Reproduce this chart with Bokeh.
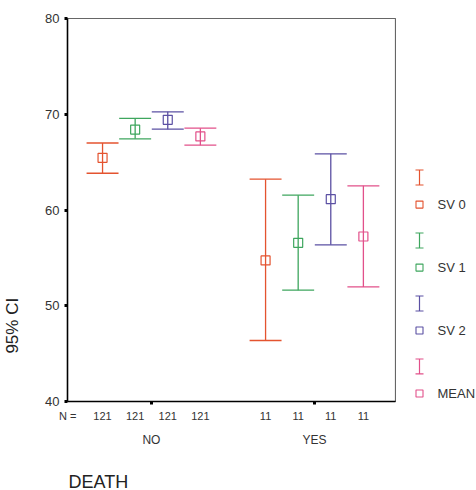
import numpy as np
from bokeh.plotting import figure
from bokeh.models import Range1d, FixedTicker, LinearAxis
from bokeh.layouts import row, column
from bokeh.core.properties import value
from bokeh.embed import file_html
from bokeh.resources import INLINE

# ---------------- data ----------------
groups = ["NO", "YES"]
n_counts = [121, 11]
series = ["SV 0", "SV 1", "SV 2", "MEAN"]
colors = ["#E4532F", "#3EA65E", "#5B50A3", "#E2508A"]

sv0_mean = [65.45, 54.73]
sv0_low = [63.84, 46.37]
sv0_high = [67.00, 63.22]

sv1_mean = [68.40, 56.57]
sv1_low = [67.43, 51.63]
sv1_high = [69.56, 61.55]

sv2_mean = [69.42, 61.13]
sv2_low = [68.44, 56.36]
sv2_high = [70.25, 65.87]

mean_mean = [67.68, 57.23]
mean_low = [66.77, 51.97]
mean_high = [68.55, 62.52]

y_ticks = [40, 50, 60, 70, 80]
n_label = "N ="
y_title = "95% CI"
x_title = "DEATH"

means = [sv0_mean, sv1_mean, sv2_mean, mean_mean]
lows = [sv0_low, sv1_low, sv2_low, mean_low]
highs = [sv0_high, sv1_high, sv2_high, mean_high]

# ---------------- layout params ----------------
group_x = [1, 2]
offsets = [-0.3, -0.1, 0.1, 0.3]
cap = 0.098
x_start, x_end = 0.485, 2.497
FONT = value("Liberation Sans")
TOP_H = 460
LEFT_W = 25


def blank(width, height, xr, yr, top=0, bottom=0):
    f = figure(width=width, height=height, x_range=xr, y_range=yr,
               output_backend="svg", toolbar_location=None,
               x_axis_location=None, y_axis_location=None,
               min_border_left=0, min_border_right=0,
               min_border_top=top, min_border_bottom=bottom)
    f.grid.visible = False
    f.outline_line_color = None
    return f


p = figure(width=396 - LEFT_W, height=TOP_H, x_range=Range1d(x_start, x_end),
           y_range=Range1d(40, 80), output_backend="svg", toolbar_location=None,
           min_border_left=67 - LEFT_W, min_border_right=1, min_border_top=18,
           min_border_bottom=TOP_H - 401)
p.grid.visible = False
p.outline_line_color = "#666666"
p.outline_line_width = 1.2

# y axis
ya = p.yaxis[0]
ya.ticker = FixedTicker(ticks=y_ticks)
ya.major_tick_in = 0
ya.major_tick_out = 3
ya.major_tick_line_width = 3
ya.major_tick_line_color = "black"
ya.minor_tick_line_color = None
ya.axis_line_color = "black"
ya.axis_line_width = 1.5
ya.major_label_standoff = 5
ya.major_label_text_font = "Liberation Sans"
ya.major_label_text_font_size = "13px"
ya.major_label_text_color = "#333333"

# x axis A: N counts under each bar; category tick marks as minor ticks
bar_x = []
bar_lab = {}
for k in range(len(series)):
    for g, gx in enumerate(group_x):
        xv = gx + offsets[k]
        bar_x.append(xv)
        bar_lab[xv] = str(n_counts[g])
n_pos = x_start + 0.001
bar_lab[n_pos] = n_label
xa = p.xaxis[0]
xa.ticker = FixedTicker(ticks=[n_pos] + sorted(bar_x), minor_ticks=group_x)
xa.major_label_overrides = bar_lab
xa.major_tick_line_color = None
xa.major_tick_in = 0
xa.major_tick_out = 0
xa.minor_tick_in = 0
xa.minor_tick_out = 3
xa.minor_tick_line_width = 3
xa.minor_tick_line_color = "black"
xa.axis_line_color = "black"
xa.axis_line_width = 1.5
xa.major_label_standoff = 5
xa.major_label_text_font = "Liberation Sans"
xa.major_label_text_font_size = "11px"
xa.major_label_text_color = "#333333"

# x axis B: group names
xb = LinearAxis(ticker=FixedTicker(ticks=group_x),
                major_label_overrides={gx: name for gx, name in zip(group_x, groups)})
xb.axis_line_color = None
xb.major_tick_line_color = None
xb.minor_tick_line_color = None
xb.major_tick_in = 0
xb.major_tick_out = 0
xb.major_label_standoff = 8
xb.major_label_text_font = "Liberation Sans"
xb.major_label_text_font_size = "12px"
xb.major_label_text_color = "#333333"
p.add_layout(xb, "below")

# error bars with caps and mean squares
for k in range(len(series)):
    xs = np.array(group_x, dtype=float) + offsets[k]
    p.segment(x0=xs, y0=lows[k], x1=xs, y1=highs[k], line_color=colors[k], line_width=1.3)
    p.segment(x0=xs - cap, y0=highs[k], x1=xs + cap, y1=highs[k], line_color=colors[k], line_width=1.3)
    p.segment(x0=xs - cap, y0=lows[k], x1=xs + cap, y1=lows[k], line_color=colors[k], line_width=1.3)
    p.scatter(x=xs, y=means[k], marker="square", size=9, fill_color=None,
              line_color=colors[k], line_width=1.2)

# ---------------- y title panel (pixel coordinates) ----------------
yfig = blank(LEFT_W, TOP_H, Range1d(0, LEFT_W), Range1d(TOP_H, 0))
yfig.text(x=[12], y=[369], text=[y_title], angle=np.pi / 2, text_align="center",
          text_baseline="middle", text_font=FONT, text_font_size="17px", text_color="#222222")

# ---------------- legend panel ----------------
leg = blank(80, TOP_H, Range1d(0, 80), Range1d(3.556, -2.524), top=18, bottom=TOP_H - 401)
lx = 23
slot = np.arange(len(series), dtype=float)
half = 0.119
for k in range(len(series)):
    t = slot[k]
    leg.segment(x0=[lx], y0=[t - half], x1=[lx], y1=[t + half], line_color=colors[k], line_width=1.2)
    leg.segment(x0=[lx - 4, lx - 4], y0=[t - half, t + half], x1=[lx + 4, lx + 4],
                y1=[t - half, t + half], line_color=colors[k], line_width=1.2)
    leg.scatter(x=[lx], y=[t + 0.43], marker="square", size=7, fill_color=None,
                line_color=colors[k], line_width=1.1)
leg.text(x=[41] * len(series), y=list(slot + 0.43), text=series, text_baseline="middle",
         text_align="left", text_font=FONT, text_font_size="13px", text_color="#333333")

# ---------------- x title panel (pixel coordinates) ----------------
bfig = blank(476, 490 - TOP_H, Range1d(0, 476), Range1d(490 - TOP_H, 0))
bfig.text(x=[68], y=[21], text=[x_title], text_align="left", text_baseline="middle",
          text_font=FONT, text_font_size="18px", text_color="#222222")

layout = column(row(yfig, p, leg), bfig)
open("out.html", "w").write(file_html(layout, INLINE))
